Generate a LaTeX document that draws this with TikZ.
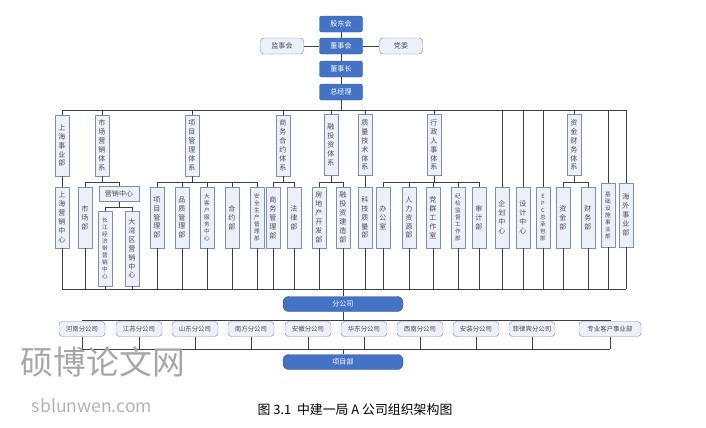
\documentclass[tikz,border=0pt]{standalone}
\usepackage{fontspec}
\setmainfont{Noto Sans CJK SC}
\XeTeXlinebreaklocale "zh"
\XeTeXlinebreakskip=0pt plus 1pt
\usetikzlibrary{positioning}
\definecolor{darkblue}{HTML}{4472C4}
\definecolor{boxline}{HTML}{7F8DB3}
\definecolor{boxfill}{HTML}{EDF0F8}
\tikzset{
  dark/.style={draw=darkblue!80!black, fill=darkblue, text=white, rounded corners=2pt,
    minimum width=12.9mm, minimum height=4.8mm, inner sep=0pt, font=\fontsize{6}{7}\selectfont},
  light/.style={draw=boxline, fill=boxfill, text=black!70, rounded corners=3pt,
    minimum width=12.9mm, minimum height=4.8mm, inner sep=0pt, font=\fontsize{6}{7}\selectfont},
  branch/.style={light, minimum width=13.8mm, minimum height=4.5mm, font=\fontsize{5.5}{6}\selectfont},
  vbox/.style={draw=boxline, fill=boxfill, text=black!70, minimum width=4.2mm, minimum height=18.3mm,
    inner sep=0pt, text width=6.2pt, align=center, font=\fontsize{6}{7.6}\selectfont},
  small/.style={text width=5pt, font=\fontsize{4.8}{6}\selectfont},
  link/.style={draw=black!75, line width=0.5pt},
}
\begin{document}
\begin{tikzpicture}[x=0.3mm, y=-0.3mm]
\useasboundingbox (0,0) rectangle (706,427);
% top chain
\node[dark] (gdh) at (341,24) {股东会};
\node[dark] (dsh) at (341,46) {董事会};
\node[dark] (dsz) at (341,69) {董事长};
\node[dark] (zjl) at (341,92) {总经理};
\node[light] (jsh) at (282,46) {监事会};
\node[light] (dw) at (401,46) {党委};
\draw[link] (gdh) -- (dsh) -- (dsz) -- (zjl);
\draw[link] (jsh) -- (dsh) -- (dw);
% first row
\node[vbox] (r1a) at (62,145.5) {上海事业部};
\node[vbox] (r1b) at (102,145.5) {市场营销体系};
\node[vbox] (r1c) at (192,145.5) {项目管理体系};
\node[vbox] (r1d) at (283,145.5) {商务合约体系};
\node[vbox] (r1e) at (331,145) {融投资体系};
\node[vbox] (r1f) at (365,145) {质量技术体系};
\node[vbox] (r1g) at (434,145) {行政人事体系};
\node[vbox] (r1h) at (574,145) {资金财务体系};
% second row
\node[vbox] (shyx) at (62,217.5) {上海营销中心};
\node[vbox] (scb) at (85,217.5) {市场部};
\node[light, rounded corners=0pt, minimum width=12mm, minimum height=4.5mm] (yxzx) at (119,194) {营销中心};
\node[vbox, small, minimum height=22.5mm] (cj) at (105,248.5) {长江经济带营销中心};
\node[vbox, minimum height=22.5mm] (dwq) at (132,248.5) {大湾区营销中心};
\node[vbox] (xmgl) at (157,217.5) {项目管理部};
\node[vbox] (pzgl) at (182,217.5) {品质管理部};
\node[vbox, small] (dkh) at (207,217.5) {大客户服务中心};
\node[vbox] (hyb) at (232,217.5) {合约部};
\node[vbox, small] (aqsc) at (257,217.5) {安全生产管理部};
\node[vbox] (swgl) at (273,217.5) {商务管理部};
\node[vbox] (flb) at (294,217.5) {法律部};
\node[vbox] (fdc) at (319,217.5) {房地产开发部};
\node[vbox] (rtz) at (343,217.5) {融投资建造部};
\node[vbox] (kjzl) at (365,217.5) {科技质量部};
\node[vbox] (bgs) at (383,217.5) {办公室};
\node[vbox] (rlzy) at (409,217.5) {人力资源部};
\node[vbox] (dqgz) at (433,217.5) {党群工作室};
\node[vbox, small] (jjjd) at (458,217.5) {纪检监督工作部};
\node[vbox] (sjb) at (479,217.5) {审计部};
\node[vbox] (qhzx) at (502,217.5) {企划中心};
\node[vbox] (sjzx) at (523,217.5) {设计中心};
\node[vbox, small] (epc) at (543,217.5) {E\\P\\C\\总\\承\\包\\部};
\node[vbox] (zjb) at (563,217.5) {资金部};
\node[vbox] (cwb) at (588,217.5) {财务部};
\node[vbox, small, minimum height=19.2mm] (jcss) at (608,215) {基础设施事业部};
\node[vbox, minimum height=19.2mm] (hwsy) at (626,215) {海外事业部};
% buses
\coordinate (top) at (0,110);
\coordinate (sub) at (0,182);
\coordinate (low) at (0,289);
\draw[link] (zjl) -- (zjl.south |- top);
\draw[link] (r1a.north |- top) -- (hwsy.north |- top);
\foreach \n in {r1a,r1b,r1c,r1d,r1e,r1f,r1g,r1h}
  \draw[link] (\n.north) -- (\n.north |- top);
\foreach \n in {qhzx,sjzx,epc,jcss,hwsy}
  \draw[link] (\n.north) -- (\n.north |- top);
\draw[link] (r1a) -- (shyx);
\draw[link] (r1f) -- (kjzl);
\foreach \a/\b/\p in {scb/yxzx/r1b, xmgl/aqsc/r1c, swgl/flb/r1d, fdc/rtz/r1e, bgs/sjb/r1g, zjb/cwb/r1h}{
  \draw[link] (\a.north) -- (\a.north |- sub) -- (\b.north |- sub) -- (\b.north);
  \draw[link] (\p.south) -- (\p.south |- sub);
}
\foreach \n in {pzgl,dkh,hyb,rlzy,dqgz,jjjd}
  \draw[link] (\n.north) -- (\n.north |- sub);
\draw[link] (cj.north) -- (cj.north |- 0,207) -- (dwq.north |- 0,207) -- (dwq.north);
\draw[link] (yxzx) -- (yxzx.south |- 0,207);
\foreach \n in {shyx,scb,cj,dwq,xmgl,pzgl,dkh,hyb,aqsc,swgl,flb,fdc,rtz,kjzl,bgs,rlzy,dqgz,jjjd,sjb,qhzx,sjzx,epc,zjb,cwb,jcss,hwsy}
  \draw[link] (\n.south) -- (\n.south |- low);
\draw[link] (shyx.south |- low) -- (hwsy.south |- low);
% branches
\node[dark, rounded corners=5pt, minimum width=36mm, minimum height=4.5mm] (fgs) at (343,304) {分公司};
\draw[link] (fgs.north |- low) -- (fgs);
\coordinate (bt) at (0,320);
\coordinate (bb) at (0,349);
\foreach \n/\x/\t in {hn/82/河南分公司, js/139/江苏分公司, sd/195/山东分公司, nf/251/南方分公司, ah/308/安徽分公司, hd/364/华东分公司, xn/420/西南分公司, az/476/安装分公司, flb2/532/菲律宾分公司}{
  \node[branch] (\n) at (\x,329) {\t};
  \draw[link] (\n.north |- bt) -- (\n) -- (\n.south |- bb);
}
\node[branch, minimum width=18.6mm] (zykh) at (610,329) {专业客户事业部};
\draw[link] (zykh.north |- bt) -- (zykh) -- (zykh.south |- bb);
\draw[link] (hn.north |- bt) -- (zykh.north |- bt);
\draw[link] (hn.south |- bb) -- (zykh.south |- bb);
\draw[link] (fgs) -- (fgs.south |- bt);
\node[dark, rounded corners=5pt, minimum width=36mm, minimum height=4.5mm] (xmb) at (343,362) {项目部};
\draw[link] (xmb.north |- bb) -- (xmb);
% watermark and caption
\node[text=black!35, font=\fontsize{28}{30}\selectfont] (wm) at (103,362) {硕博论文网};
\node[text=black!30, font=\fontsize{15}{16}\selectfont] (wmurl) at (92,406) {sblunwen.com};
\node[font=\fontsize{11}{12}\selectfont] (cap) at (355,410) {图 3.1\ \ 中建一局 A 公司组织架构图};
\end{tikzpicture}
\end{document}
